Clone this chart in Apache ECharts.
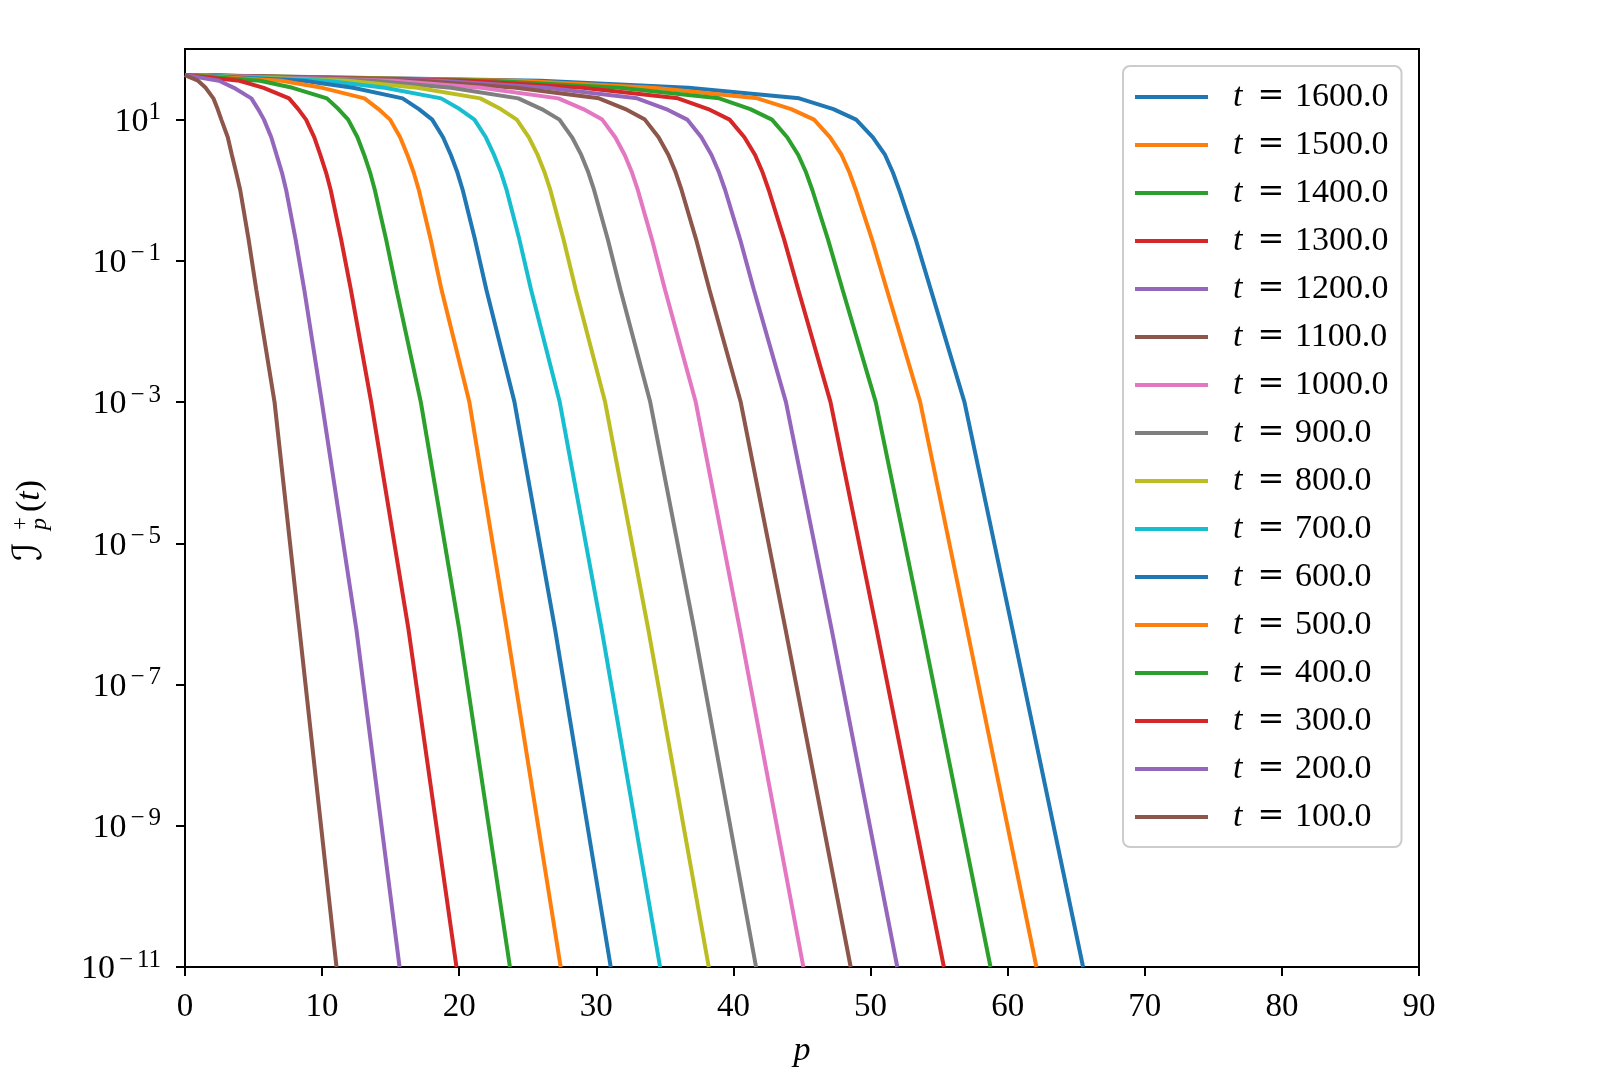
<!DOCTYPE html>
<html>
<head>
<meta charset="utf-8">
<script src="https://cdn.jsdelivr.net/npm/echarts@6/dist/echarts.min.js"></script>
<style>
html, body { margin: 0; padding: 0; background: #fff; }
#chart { width: 1600px; height: 1088px; }
</style>
</head>
<body>
<div id="chart"></div>
<script>
const levels = [42.7, 35.5, 28.2, 20.0, 14.1, 10, 5.62, 3.16, 1.78, 1, 0.2, 3.89e-2, 1e-3, 6.03e-7, 1e-11];

// p at which each curve passes the levels above
const p1600 = [0, 25.94, 36.71, 44.79, 47.29, 48.95, 50.17, 51.06, 51.63, 52.10, 53.30, 54.40, 56.85, 60.35, 65.50];
const p1500 = [0, 24.32, 34.18, 41.75, 44.21, 45.88, 47.05, 47.89, 48.46, 48.93, 50.11, 51.19, 53.62, 57.04, 62.10];
const p1400 = [0, 22.26, 31.68, 38.96, 41.23, 42.81, 43.92, 44.73, 45.30, 45.76, 46.90, 47.96, 50.38, 53.79, 58.75];
const p1300 = [0, 20.65, 29.00, 35.95, 38.16, 39.72, 40.80, 41.58, 42.13, 42.58, 43.70, 44.73, 47.08, 50.44, 55.35];
const p1200 = [0, 18.68, 26.37, 32.97, 35.09, 36.63, 37.66, 38.40, 38.95, 39.40, 40.49, 41.49, 43.83, 47.16, 51.95];
const p1100 = [0, 17.11, 24.15, 30.19, 32.12, 33.54, 34.54, 35.26, 35.79, 36.22, 37.28, 38.25, 40.53, 43.80, 48.55];
const p1000 = [0, 15.22, 21.61, 27.23, 29.05, 30.43, 31.38, 32.07, 32.60, 33.03, 34.06, 35.01, 37.25, 40.47, 45.10];
const p900  = [0, 13.66, 19.39, 24.31, 26.01, 27.31, 28.23, 28.90, 29.42, 29.84, 30.84, 31.76, 33.93, 37.14, 41.65];
const p800  = [0, 11.86, 16.94, 21.54, 23.03, 24.20, 25.08, 25.72, 26.23, 26.65, 27.61, 28.50, 30.64, 33.79, 38.20];
const p700  = [0, 10.34, 14.57, 18.68, 20.03, 21.11, 21.94, 22.54, 23.05, 23.46, 24.39, 25.24, 27.33, 30.39, 34.65];
const p600  = [0, 8.65, 12.26, 15.87, 17.06, 18.03, 18.82, 19.39, 19.87, 20.26, 21.15, 21.98, 24.03, 26.99, 31.05];
const p500  = [0, 7.03, 10.02, 13.09, 14.11, 14.96, 15.69, 16.22, 16.68, 17.06, 17.92, 18.71, 20.74, 23.47, 27.40];
const p400  = [0, 5.47, 7.85, 10.35, 11.19, 11.90, 12.58, 13.07, 13.50, 13.85, 14.67, 15.43, 17.20, 20.00, 23.70];
const p300  = [0, 3.97, 5.74, 7.59, 8.26, 8.83, 9.43, 9.87, 10.29, 10.63, 11.39, 12.10, 13.58, 16.30, 19.80];
const p200  = [0, 2.48, 3.57, 4.84, 5.33, 5.76, 6.29, 6.68, 7.07, 7.38, 8.07, 8.70, 9.98, 12.50, 15.65];
const p100  = [0, 0.95, 1.51, 2.07, 2.38, 2.65, 3.12, 3.42, 3.73, 4.03, 4.64, 5.20, 6.53, 8.35, 11.05];

const tNames = ['1600.0', '1500.0', '1400.0', '1300.0', '1200.0', '1100.0', '1000.0', '900.0',
                '800.0', '700.0', '600.0', '500.0', '400.0', '300.0', '200.0', '100.0'];
const curves = [p1600, p1500, p1400, p1300, p1200, p1100, p1000, p900,
                p800, p700, p600, p500, p400, p300, p200, p100];
const colors = ['#1f77b4', '#ff7f0e', '#2ca02c', '#d62728', '#9467bd', '#8c564b', '#e377c2', '#7f7f7f',
                '#bcbd22', '#17becf', '#1f77b4', '#ff7f0e', '#2ca02c', '#d62728', '#9467bd', '#8c564b'];

const yTicks = [1e-11, 1e-9, 1e-7, 1e-5, 1e-3, 1e-1, 1e1];

const serif = '"Liberation Serif", "Times New Roman", serif';

const chart = echarts.init(document.getElementById('chart'));

const series = curves.map(function (ps, k) {
    return {
        name: tNames[k],
        type: 'line',
        data: ps.map(function (p, i) { return [p, levels[i]]; }),
        showSymbol: false,
        symbol: 'none',
        clip: true,
        color: colors[k],
        lineStyle: { width: 4, color: colors[k] },
        itemStyle: { color: colors[k] },
        emphasis: { disabled: true }
    };
});

const option = {
    animation: false,
    backgroundColor: '#fff',
    grid: {
        left: 185, top: 49, right: 181, bottom: 121,
        show: true, borderColor: '#000', borderWidth: 2, backgroundColor: 'transparent'
    },
    xAxis: {
        type: 'value',
        min: 0, max: 90, interval: 10,
        name: 'p',
        nameLocation: 'middle',
        nameGap: 67,
        nameTextStyle: { fontFamily: serif, fontStyle: 'italic', fontSize: 34, color: '#000' },
        axisLine: { show: false },
        axisTick: { show: true, length: 9, lineStyle: { color: '#000', width: 2 } },
        axisLabel: { margin: 24, fontFamily: serif, fontSize: 33, color: '#000' },
        splitLine: { show: false }
    },
    yAxis: {
        type: 'log',
        logBase: 10,
        min: 1e-11, max: 100,
        axisLine: { show: false },
        axisTick: { show: true, length: 9, lineStyle: { color: '#000', width: 2 }, customValues: yTicks },
        axisLabel: {
            margin: 24,
            padding: [5, 0, 0, 0],
            customValues: yTicks,
            formatter: function (v) {
                const e = Math.round(Math.log10(v));
                if (e < 0) return '{b|10}{m|\u2212}{s|' + (-e) + '}';
                return '{b|10}{s|' + e + '}';
            },
            rich: {
                b: { fontFamily: serif, fontSize: 34, color: '#000', lineHeight: 44 },
                m: { fontFamily: serif, fontSize: 25, color: '#000', verticalAlign: 'top', lineHeight: 30, width: 22, align: 'center' },
                s: { fontFamily: serif, fontSize: 25, color: '#000', verticalAlign: 'top', lineHeight: 30 }
            }
        },
        splitLine: { show: false },
        minorTick: { show: false }
    },
    legend: {
        orient: 'vertical',
        left: 1123, top: 66,
        padding: [11, 13, 10, 12],
        itemWidth: 73, itemHeight: 4, itemGap: 8,
        icon: 'rect',
        selectedMode: false,
        backgroundColor: 'rgba(255,255,255,0.8)',
        borderColor: '#cccccc', borderWidth: 2, borderRadius: 7,
        data: tNames,
        formatter: function (name) {
            return '{g| }{i|t}{eq|=}{n|' + name + '}';
        },
        textStyle: {
            color: '#000', fontFamily: serif, fontSize: 34, lineHeight: 40,
            rich: {
                g: { width: 20, fontSize: 33, lineHeight: 40 },
                i: { width: 14, fontFamily: serif, fontStyle: 'italic', fontSize: 34, lineHeight: 40 },
                eq: { width: 48, align: 'center', fontFamily: '"DejaVu Serif", serif', fontSize: 32, lineHeight: 40 },
                n: { fontFamily: serif, fontSize: 34, lineHeight: 40 }
            }
        }
    },
    graphic: [{
        type: 'group',
        x: 30, y: 518,
        rotation: Math.PI / 2,
        children: [
            { type: 'text', x: -43, y: 1,
              style: { text: '\u2110', fontFamily: '"DejaVu Serif", "DejaVu Sans"', fontSize: 40, fill: '#000', verticalAlign: 'middle', align: 'left' } },
            { type: 'text', x: -12, y: -9,
              style: { text: '+', fontFamily: serif, fontSize: 23, fill: '#000', verticalAlign: 'middle', align: 'left' } },
            { type: 'text', x: -12, y: 10,
              style: { text: 'p', fontFamily: serif, fontStyle: 'italic', fontSize: 24, fill: '#000', verticalAlign: 'middle', align: 'left' } },
            { type: 'text', x: 6, y: 0,
              style: {
                  text: '{n|(}{i|t}{n|)}', verticalAlign: 'middle', align: 'left',
                  rich: {
                      n: { fontFamily: serif, fontSize: 34, fill: '#000' },
                      i: { fontFamily: serif, fontStyle: 'italic', fontSize: 34, fill: '#000' }
                  }
              } }
        ]
    }],
    series: series
};

chart.setOption(option);
</script>
</body>
</html>
